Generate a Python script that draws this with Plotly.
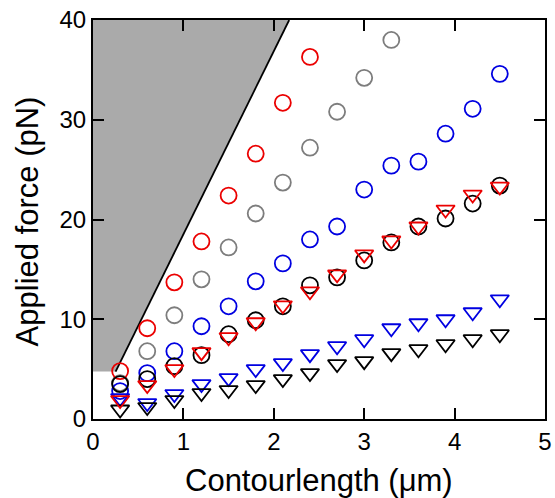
import plotly.graph_objects as go

x_all = [0.3, 0.6, 0.9, 1.2, 1.5, 1.8, 2.1, 2.4, 2.7, 3.0, 3.3, 3.6, 3.9, 4.2, 4.5]

red_circles = [4.8, 9.1, 13.7, 17.8, 22.4, 26.6, 31.7, 36.3]
gray_circles = [3.6, 6.8, 10.4, 14.0, 17.2, 20.6, 23.7, 27.2, 30.8, 34.2, 38.0]
blue_circles = [2.8, 4.6, 6.8, 9.3, 11.3, 13.8, 15.6, 18.0, 19.3, 23.0, 25.4, 25.8, 28.6, 31.1, 34.6]
black_circles = [3.5, 4.0, 5.3, 6.4, 8.5, 9.9, 11.3, 13.4, 14.2, 15.9, 17.7, 19.3, 20.1, 21.6, 23.4]
red_triangles = [1.9, 3.4, 5.0, 6.7, 8.2, 9.7, 11.4, 12.8, 14.5, 16.5, 17.9, 19.3, 21.0, 22.5, 23.3]
blue_triangles = [2.1, 1.6, 2.5, 3.5, 4.1, 5.0, 5.6, 6.5, 7.3, 8.0, 9.1, 9.6, 10.0, 10.7, 12.0]
black_triangles = [0.95, 1.2, 1.9, 2.6, 2.9, 3.4, 4.0, 4.6, 5.5, 5.8, 6.6, 7.0, 7.5, 8.0, 8.5]

x_ticks = [0, 1, 2, 3, 4, 5]
y_ticks = [0, 10, 20, 30, 40]
x_title = "Contourlength (\u03bcm)"
y_title = "Applied force (pN)"

# forbidden (shaded) region boundary
region_x = [0, 0.25, 2.17, 0]
region_y = [4.75, 4.75, 40, 40]
limit_x = [0.25, 2.17]
limit_y = [4.75, 40]

RED = "rgb(235,0,0)"
BLUE = "rgb(0,0,225)"
GRAY = "rgb(125,125,125)"
BLACK = "rgb(0,0,0)"
FONT = "Liberation Sans, Arial, sans-serif"

fig = go.Figure()
fig.add_trace(go.Scatter(x=region_x, y=region_y, fill="toself", mode="none",
                         fillcolor="rgb(170,170,170)", hoverinfo="skip"))
fig.add_trace(go.Scatter(x=limit_x, y=limit_y, mode="lines",
                         line=dict(color="black", width=1.8), hoverinfo="skip"))

def circ(y, color):
    return go.Scatter(x=x_all[:len(y)], y=y, mode="markers",
                      marker=dict(symbol="circle-open", size=16, color=color,
                                  line=dict(width=1.8, color=color)))

def tri(y, color):
    return go.Scatter(x=x_all[:len(y)], y=y, mode="markers",
                      marker=dict(symbol="triangle-down-open", size=16, color=color,
                                  line=dict(width=1.8, color=color)))

fig.add_trace(circ(gray_circles, GRAY))
fig.add_trace(circ(red_circles, RED))
fig.add_trace(circ(blue_circles, BLUE))
fig.add_trace(circ(black_circles, BLACK))
fig.add_trace(tri(blue_triangles, BLUE))
fig.add_trace(tri(black_triangles, BLACK))
fig.add_trace(tri(red_triangles, RED))

axis_common = dict(showline=True, linewidth=2, linecolor="black", mirror="ticks",
                   ticks="inside", ticklen=11, tickwidth=2, tickcolor="black",
                   showgrid=False, zeroline=False, automargin=False,
                   tickfont=dict(family=FONT, size=24, color="black"))

# plot area spans x 93..545, y 20..419 of the 555x498 page
fig.update_layout(
    width=555, height=498,
    margin=dict(l=93, r=10, t=20, b=79),
    paper_bgcolor="white", plot_bgcolor="white",
    showlegend=False,
    font=dict(family=FONT, color="black"),
    xaxis=dict(range=[0, 5], tickvals=x_ticks, **axis_common),
    yaxis=dict(range=[0, 40], tickvals=y_ticks, **axis_common),
    annotations=[
        dict(text=x_title, xref="paper", yref="paper", x=0.5, y=-0.155,
             xanchor="center", yanchor="middle", showarrow=False,
             font=dict(family=FONT, size=31, color="black")),
        dict(text=y_title, xref="paper", yref="paper", x=-0.144, y=0.495,
             xanchor="center", yanchor="middle", showarrow=False, textangle=-90,
             font=dict(family=FONT, size=31, color="black")),
    ],
)

fig.write_html("out.html",
               config={"displayModeBar": False},
               post_script="document.body.style.margin='0';document.body.style.padding='0';"
                           "document.body.style.overflow='hidden';")
